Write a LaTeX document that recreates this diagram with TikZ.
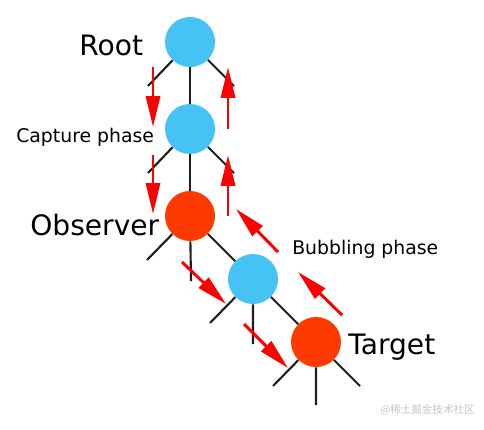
\documentclass[tikz,border=0pt]{standalone}
\usepackage{fontspec}
\setmainfont{DejaVu Sans}
\newfontfamily\cjkfont{Noto Sans CJK SC}
\usetikzlibrary{arrows.meta}
\definecolor{sky}{HTML}{45C3F5}
\definecolor{ember}{HTML}{FF3A00}
\definecolor{flowred}{HTML}{FF0000}
\definecolor{twig}{HTML}{1E1E1E}
\definecolor{wmgray}{HTML}{C4C4C4}

\begin{document}
\begin{tikzpicture}[x=0.025cm,y=-0.025cm,
  dot/.style={circle,inner sep=0pt,minimum size=1.25cm},
  branch/.style={draw=twig,line width=1.5pt},
  flow/.style={draw=flowred,line width=2.1pt,-{Triangle[length=22pt,width=10pt]},flowred},
  biglabel/.style={anchor=base west,inner sep=0pt,font=\fontsize{20}{24}\selectfont},
  smalllabel/.style={anchor=base west,inner sep=0pt,font=\fontsize{13.4}{16}\selectfont}]
\useasboundingbox (0,0) rectangle (484,429);
% tree nodes
\node[dot,fill=sky] (root) at (190,42) {};
\node[dot,fill=sky] (capture) at (190,129) {};
\node[dot,fill=ember] (observer) at (190,216) {};
\node[dot,fill=sky] (mid) at (253,279) {};
\node[dot,fill=ember] (target) at (316,342) {};
% loose branch ends
\coordinate (rootL) at (148,86);
\coordinate (rootR) at (234,86);
\coordinate (captureL) at (148,173);
\coordinate (captureR) at (234,173);
\coordinate (observerL) at (147,260);
\coordinate (observerM) at (191,281);
\coordinate (midL) at (210,323);
\coordinate (midM) at (253,344);
\coordinate (targetL) at (273,386);
\coordinate (targetM) at (316,405);
\coordinate (targetR) at (360,386);
\draw[branch] (rootL) -- (root) -- (rootR);
\draw[branch] (root) -- (capture);
\draw[branch] (captureL) -- (capture) -- (captureR);
\draw[branch] (capture) -- (observer);
\draw[branch] (observerL) -- (observer) -- (observerM);
\draw[branch] (observer) -- (mid);
\draw[branch] (midL) -- (mid) -- (midM);
\draw[branch] (mid) -- (target);
\draw[branch] (targetL) -- (target) -- (targetM);
\draw[branch] (target) -- (targetR);
% capture arrows
\coordinate (down1s) at (153,67);   \coordinate (down1e) at (153,127);
\coordinate (down2s) at (153,155);  \coordinate (down2e) at (153,214);
\coordinate (diag1s) at (182,262);  \coordinate (diag1e) at (226,304);
\coordinate (diag2s) at (244,324);  \coordinate (diag2e) at (288,368);
\draw[flow] (down1s) -- (down1e);
\draw[flow] (down2s) -- (down2e);
\draw[flow] (diag1s) -- (diag1e);
\draw[flow] (diag2s) -- (diag2e);
% bubbling arrows
\coordinate (up1s) at (228,129);    \coordinate (up1e) at (228,67);
\coordinate (up2s) at (228,216);    \coordinate (up2e) at (228,155);
\coordinate (bub1s) at (278,252);   \coordinate (bub1e) at (236,209);
\coordinate (bub2s) at (342,315);   \coordinate (bub2e) at (298,272);
\draw[flow] (up1s) -- (up1e);
\draw[flow] (up2s) -- (up2e);
\draw[flow] (bub1s) -- (bub1e);
\draw[flow] (bub2s) -- (bub2e);
% labels
\node[biglabel] (rootlab) at (79,55) {Root};
\node[smalllabel] (capturelab) at (16,142) {Capture phase};
\node[biglabel] (observerlab) at (30,235) {Observer};
\node[smalllabel] (bubblelab) at (292,254) {Bubbling phase};
\node[biglabel] (targetlab) at (348,354) {Target};
\node[anchor=base west,inner sep=0pt,text=wmgray,font=\cjkfont\fontsize{7.5}{9}\selectfont] (watermark) at (380,413) {@稀土掘金技术社区};
\end{tikzpicture}
\end{document}
